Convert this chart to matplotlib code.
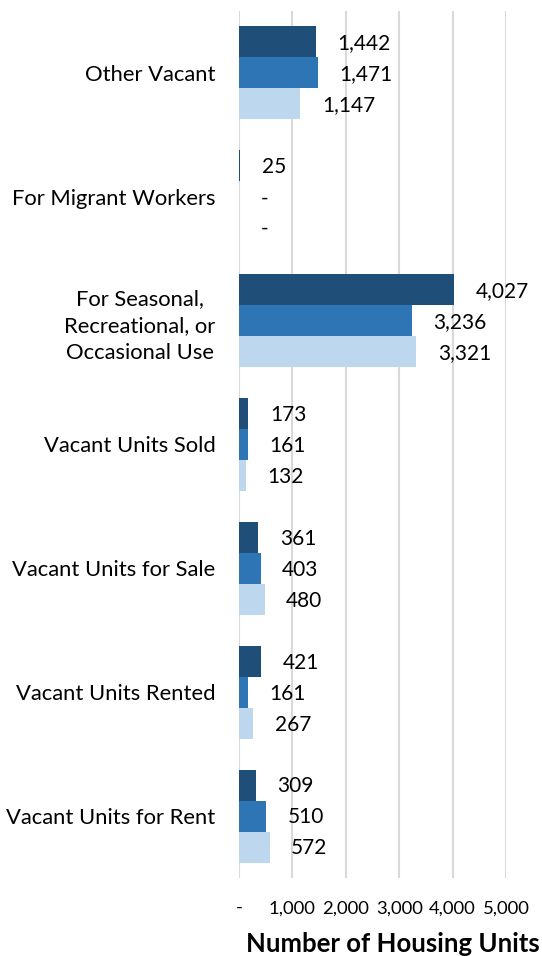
import matplotlib
matplotlib.use("Agg")
import matplotlib.pyplot as plt
import numpy as np
from matplotlib.ticker import FuncFormatter

categories = ["Other Vacant", "For Migrant Workers",
              "For Seasonal,\nRecreational, or\nOccasional Use",
              "Vacant Units Sold", "Vacant Units for Sale",
              "Vacant Units Rented", "Vacant Units for Rent"]
series_a = [1442, 25, 4027, 173, 361, 421, 309]
series_b = [1471, 0, 3236, 161, 403, 161, 510]
series_c = [1147, 0, 3321, 132, 480, 267, 572]
colors = ["#1f4e79", "#2e75b6", "#bdd7ee"]
xticks = [0, 1000, 2000, 3000, 4000, 5000]

FONT = "Lato"
plt.rcParams['font.family'] = [FONT, 'DejaVu Sans']

fig = plt.figure(figsize=(5.42, 9.56), dpi=100)
ax = fig.add_axes([239/542, 1-878/956, (506-239)/542, (878-11)/956])

y = np.arange(len(categories))
h = 0.25
for i, (vals, c) in enumerate(zip([series_a, series_b, series_c], colors)):
    pos = y + (i - 1) * h
    ax.barh(pos, vals, height=h, color=c, zorder=3)
    for p, v in zip(pos, vals):
        txt = f"{v:,}" if v != 0 else "-"
        ax.annotate(txt, (v, p), xytext=(15.5, -1), textcoords="offset points",
                    ha="left", va="center", fontsize=15, color="black")

ax.set_ylim(len(categories) - 0.5, -0.5)
ax.set_xlim(0, 5000)
ax.set_yticks(y)
ax.set_yticklabels(categories, fontsize=15.8, multialignment="center", linespacing=1.45)
ax.set_xticks(xticks)
ax.xaxis.set_major_formatter(FuncFormatter(lambda v, p: "-" if v == 0 else f"{int(v):,}"))
ax.tick_params(axis="x", length=0, pad=16, labelsize=13.3)
ax.tick_params(axis="y", length=0, pad=17)
ax.grid(axis="x", color="#d9d9d9", linewidth=1.5, zorder=0)
for s in ax.spines.values():
    s.set_visible(False)
ax.set_xlabel("Number of Housing Units", fontsize=18.5, fontweight="bold")
ax.xaxis.set_label_coords(0.578, -0.0625)

fig.savefig("out.png", dpi=100)
